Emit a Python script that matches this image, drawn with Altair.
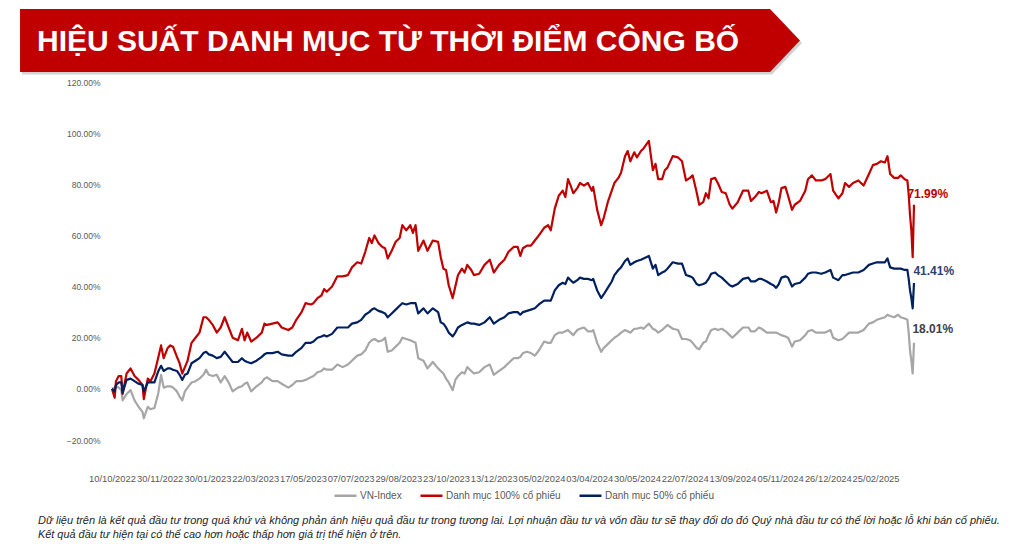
import json
import altair as alt
import pandas as pd

TITLE = "HIỆU SUẤT DANH MỤC TỪ THỜI ĐIỂM CÔNG BỐ"
SERIES = ["VN-Index", "Danh mục 100% cổ phiếu", "Danh mục 50% cổ phiếu"]
COLORS = ["#A6A6A6", "#C00000", "#002060"]
LABEL_COLORS = ["#404040", "#C00000", "#2E4372"]
X_TICK_LABELS = ["10/10/2022", "30/11/2022", "30/01/2023", "22/03/2023", "17/05/2023",
                 "07/07/2023", "29/08/2023", "23/10/2023", "13/12/2023", "05/02/2024",
                 "03/04/2024", "30/05/2024", "22/07/2024", "13/09/2024", "05/11/2024",
                 "26/12/2024", "25/02/2025"]
Y_TICKS = [-20, 0, 20, 40, 60, 80, 100, 120]
FOOTNOTE = [
    "Dữ liệu trên là kết quả đầu tư trong quá khứ và không phản ánh hiệu quả đầu tư trong tương lai. Lợi nhuận đầu tư và vốn đầu tư sẽ thay đổi do đó Quý nhà đầu tư có thể lời hoặc lỗ khi bán cổ phiếu.",
    "Kết quả đầu tư hiện tại có thể cao hơn hoặc thấp hơn giá trị thể hiện ở trên.",
]

# trading-day index (0 = 10/10/2022)
DAY = [0, 2, 3, 5, 7, 8, 11, 14, 17, 20, 23, 24, 27, 29, 32, 35, 37, 39, 42, 44,
       46, 49, 51, 53, 55, 57, 60, 63, 66, 69, 71, 73, 76, 79, 82, 85, 88, 91, 95, 98,
       100, 102, 105, 109, 113, 115, 117, 121, 125, 128, 133, 136, 139, 143, 146, 150,
       152, 155, 158, 160, 162, 166, 170, 174, 178, 181, 185, 188, 191, 194, 196, 198,
       201, 204, 206, 208, 211, 214, 217, 219, 222, 225, 227, 229, 231, 233, 235, 238,
       242, 246, 248, 250, 252, 254, 257, 259, 261, 264, 266, 268, 271, 273, 277, 281,
       285, 288, 292, 296, 299, 303,
       306, 308, 310, 313, 316, 319, 322, 326, 329, 331, 334, 337, 340, 342, 344, 346,
       348, 351, 353, 356, 359, 362, 363, 366, 369, 371, 374, 377, 379, 382, 384, 387,
       389, 391, 394, 396, 399, 401, 405, 408, 410, 412, 415, 417, 419, 423, 427, 430,
       433, 436, 438, 441, 443, 446, 448, 450, 452, 455,
       457, 460, 463, 466, 468, 472, 476, 480, 482, 485, 488, 490, 494, 497, 499, 501,
       503, 505, 508, 510, 513, 515, 519, 523, 525, 528, 531, 535, 538, 542, 544, 548,
       551, 553, 556, 559, 563, 567, 571, 574, 577, 580, 583, 585, 587, 590, 593, 595,
       598, 600, 601, 602, 603, 604, 605]

P100 = [0, -3.5, 3, 5, 5, -2, 6, 8, 5, 3.5, 1.5, -4, 4, 3, 6, 12.5, 17, 12, 16, 17,
        16.5, 12.5, 10, 6, 8.5, 11, 18, 20, 22, 28, 28, 27, 25, 22, 24, 28, 24, 20, 19, 23.5,
        19, 22, 18.5, 20, 22, 25.5, 25, 25.5, 26, 24, 23, 24, 27, 30, 33.5, 33,
        33.5, 35.5, 36.5, 39, 38, 40, 44, 44, 44.5, 47.5, 49.5, 49, 53.5, 59, 57, 60,
        57, 55.5, 55, 51, 54, 57.5, 59, 64, 62, 64, 61, 64, 54, 56, 58, 54,
        58, 57.5, 51.5, 47, 46.5, 40.5, 35.5, 40, 44.5, 47, 45.5, 48.5, 46.5, 44.5, 45, 48.5,
        50.5, 45.5, 48.5, 50.5, 53.5, 55.5,
        55.5, 52, 55, 56, 56, 58, 60, 63, 64, 62, 70.5, 75.5, 77.5, 75, 82, 79.5,
        76.5, 78.5, 80.5, 79.5, 80.5, 77.5, 79, 70, 64, 67, 73, 77.5, 80.5, 82.5, 84.5, 91,
        93, 89, 92.5, 90.5, 93, 94, 97, 85.5, 88, 82, 82, 85.5, 86.5, 91, 90.5, 89,
        81.5, 82.5, 83.5, 77, 72, 73, 76.5, 74.5, 82, 82.5,
        80.5, 77, 76.5, 72, 70.5, 73, 77.5, 77.5, 73.5, 75, 77, 76.5, 77.5, 73, 73.5, 69,
        73, 78.5, 79, 75.5, 70, 72, 73.5, 77.5, 82, 83.5, 81.5, 81.5, 82, 84, 77.5, 74.5,
        76.5, 80.5, 79, 80.5, 81.5, 79.5, 84, 87.5, 88, 89, 88.5, 91, 84, 82.5, 82.5, 83.5,
        82, 81.5, 76, 68, 62, 51.5, 71.99]

P50 = [0, -1, 1.5, 2.5, 2.5, -1.5, 3.5, 4, 3, 2, 1.5, -1, 2.5, 2.5, 2.5, 7, 9, 7, 8, 8,
       7.5, 7, 5.5, 3.5, 5.5, 6, 10, 11, 12, 14, 14.5, 13.5, 13, 12, 12.5, 14.5, 12.5, 10.5, 10.5, 12,
       11, 10.5, 10, 11, 12.5, 13.5, 14, 14, 14.5, 13.5, 13, 13, 14.5, 16, 18, 18,
       18.5, 20, 20.5, 21, 20.5, 21.5, 24, 24, 24, 25.5, 26, 27, 29, 30, 31, 31.5,
       30.5, 30, 29.5, 28, 29.5, 31, 32.5, 33.5, 33, 33.5, 33.5, 33.5, 29.5, 30.5, 31.5, 29.5,
       31.5, 30, 26, 25.5, 24, 22, 20.5, 22, 24, 25, 25.5, 26, 25.5, 25.5, 25, 26,
       28, 25.5, 27, 28, 29.5, 30,
       30, 29, 30, 30.5, 31, 31.5, 33, 34.5, 34.5, 34.5, 38.5, 40.5, 41.5, 41, 43.5, 42.5,
       41.5, 42.5, 43.5, 43, 43, 42.5, 43, 38.5, 35.5, 37, 39.5, 42, 44.5, 46.5, 47.5, 50,
       51, 48.5, 49.5, 50, 50.5, 51, 52, 47, 48.5, 44.5, 45.5, 46, 47, 49.5, 49, 49,
       44.5, 44, 43.5, 41, 40.5, 41, 41.5, 43, 45, 45.5,
       44.5, 43.5, 42, 40.5, 40, 41, 43, 43.5, 42, 42, 43, 43, 42, 41, 40.5, 39.5,
       41, 43.5, 44, 43.5, 40, 41, 41.5, 43.5, 45, 45.5, 45.5, 45, 45.5, 46.5, 43.5, 42.5,
       44.5, 44.5, 45, 45.5, 45.5, 46.5, 48.5, 49, 49.5, 49.5, 49.5, 51, 47.5, 47, 47, 47,
       46.5, 46.5, 43, 38.5, 35.5, 31.5, 41.41]

VN_INDEX = [0, 0.5, 1, 0.5, -0.5, -4.5, -2, -0.5, -4.5, -7, -9, -11.5, -7, -8, -7.5, -1.5, 5.5, 0.5, 1, 1,
            0.5, -1, -3, -4.5, -1, 0.5, 2.5, 3, 4, 5.5, 7.5, 5.5, 5, 5.5, 2.5, 5, 2.5, -1, 0.5, 1,
            2, 2.5, -1, 1, 2.5, 4, 4.5, 3, 3, 2, 0.5, 1.5, 3, 3, 3.5, 4.5,
            5, 6.5, 7, 8, 7.5, 7.5, 9.5, 8.5, 9.5, 11, 13, 13.5, 15, 18, 19, 19.5,
            18.5, 19, 20, 14.5, 15, 16.5, 18, 20, 19.5, 19, 18.5, 18, 12, 11.5, 11, 8,
            10.5, 8, 7, 6, 4, 2.5, -0.5, 3.5, 5, 6.5, 6, 8.5, 7, 6, 6.5, 8.5,
            9.5, 5.5, 7, 8.5, 10, 12,
            12, 12.5, 14, 14.5, 14, 13, 15, 18.5, 18, 18, 21, 22, 22, 22.5, 23, 22,
            21, 23, 23.5, 24, 22.5, 22.5, 23, 18, 14.5, 16, 17.5, 19, 20, 21, 22, 23,
            22.5, 22, 23.5, 23.5, 24, 23.5, 25.5, 23.5, 23, 22, 23, 24, 25, 23.5, 23, 19.5,
            19.5, 19, 18, 16, 15.5, 18, 18.5, 21, 23, 23.5,
            23, 23.5, 22.5, 21, 20, 22, 24, 24, 22.5, 22.5, 24, 23.5, 22, 22, 22, 22,
            21.5, 21, 20.5, 20, 16.5, 18.5, 19, 21, 22.5, 23, 22, 22, 22, 23, 20, 19,
            19.5, 20.5, 22, 22, 22, 23, 25.5, 26, 27, 27.5, 28, 29, 28.5, 28, 29, 28,
            27.5, 27, 22, 15, 11, 6, 18.01]

VALUES = [VN_INDEX, P100, P50]
END_LABELS = ["18.01%", "71.99%", "41.41%"]

rows = []
for name, vals in zip(SERIES, VALUES):
    for d, v in zip(DAY, vals):
        rows.append({"day": d, "value": v, "series": name})
df = pd.DataFrame(rows)

W, H = 802, 358
x_scale = alt.Scale(domain=[0, 605], nice=False, zero=False)
y_scale = alt.Scale(domain=[-20, 120], nice=False, zero=False)
color_scale = alt.Scale(domain=SERIES, range=COLORS)

x_axis = alt.Axis(values=list(range(0, 577, 36)),
                  labelExpr=json.dumps(X_TICK_LABELS) + "[round(datum.value / 36)]",
                  title=None, grid=False, domain=False, ticks=False, tickSize=0,
                  labelPadding=34, labelFontSize=9.4, labelColor="#595959",
                  labelFont="Liberation Sans", labelOverlap=False, labelFlush=False)
y_axis = alt.Axis(values=Y_TICKS, labelExpr="format(datum.value, '.2f') + '%'",
                  title=None, grid=False, domain=False, ticks=False, tickSize=0,
                  labelPadding=12, labelFontSize=8.5, labelColor="#595959",
                  labelFont="Liberation Sans")

X = alt.X("day:Q", scale=x_scale, axis=x_axis)
Y = alt.Y("value:Q", scale=y_scale, axis=y_axis)

lines = alt.Chart(df).mark_line(strokeWidth=2.2, strokeJoin="round").encode(
    x=X, y=Y,
    color=alt.Color("series:N", scale=color_scale, sort=SERIES,
                    legend=alt.Legend(title=None, orient="none", legendX=221, legendY=401,
                                      direction="horizontal", columns=3,
                                      symbolType="stroke", symbolSize=484,
                                      symbolStrokeWidth=2.5, labelFontSize=10,
                                      labelColor="#595959", labelFont="Liberation Sans",
                                      columnPadding=13, labelOffset=2, padding=0)),
)

end_df = pd.DataFrame({
    "series": SERIES,
    "day": [DAY[-1]] * 3,
    "value": [v[-1] for v in VALUES],
    "label": END_LABELS,
})
offsets = {SERIES[0]: (-1.6, -14), SERIES[1]: (-6.6, -11), SERIES[2]: (-0.6, -12)}
end_layers = []
for name, col in zip(SERIES, LABEL_COLORS):
    dx, dy = offsets[name]
    end_layers.append(
        alt.Chart(end_df).transform_filter(alt.datum.series == name)
        .mark_text(align="left", baseline="middle", dx=dx, dy=dy, fontSize=12,
                   fontWeight="bold", font="Liberation Sans", color=col)
        .encode(x=X, y=Y, text="label:N")
    )

title_df = pd.DataFrame({"t": [TITLE]})
banner_path = "M-12.38,-1L11.43,-1L12.38,0L11.43,1L-12.38,1Z"
shadow = alt.Chart(title_df).mark_point(shape=banner_path, filled=True, size=3969,
                                        color="#7f7f7f", opacity=0.35, strokeWidth=0).encode(
    x=alt.value(300), y=alt.value(-39))
banner = alt.Chart(title_df).mark_point(shape=banner_path, filled=True, size=3969,
                                        color="#C00000", opacity=1, strokeWidth=0).encode(
    x=alt.value(298), y=alt.value(-41.5))
title_text = alt.Chart(title_df).mark_text(align="left", baseline="middle",
                                           font="Liberation Sans", fontWeight="bold",
                                           fontSize=30, color="white").encode(
    x=alt.value(-75), y=alt.value(-40), text="t:N")

foot_layers = []
for line, ypos, fs in zip(FOOTNOTE, [439, 453], [11, 10.9]):
    fd = pd.DataFrame({"t": [line]})
    foot_layers.append(
        alt.Chart(fd).mark_text(align="left", baseline="middle", font="Liberation Sans",
                                fontStyle="italic", fontSize=fs, color="#262626")
        .encode(x=alt.value(-74), y=alt.value(ypos), text="t:N")
    )

chart = alt.layer(shadow, banner, title_text, lines, *end_layers, *foot_layers).properties(
    width=W, height=H,
    padding={"left": 104, "top": 74, "right": 102, "bottom": 101},
    autosize=alt.AutoSizeParams(type="none"),
).configure(background="white", view=alt.ViewConfig(strokeWidth=0))

chart.save("out.html", embed_options={"renderer": "svg", "actions": False})
